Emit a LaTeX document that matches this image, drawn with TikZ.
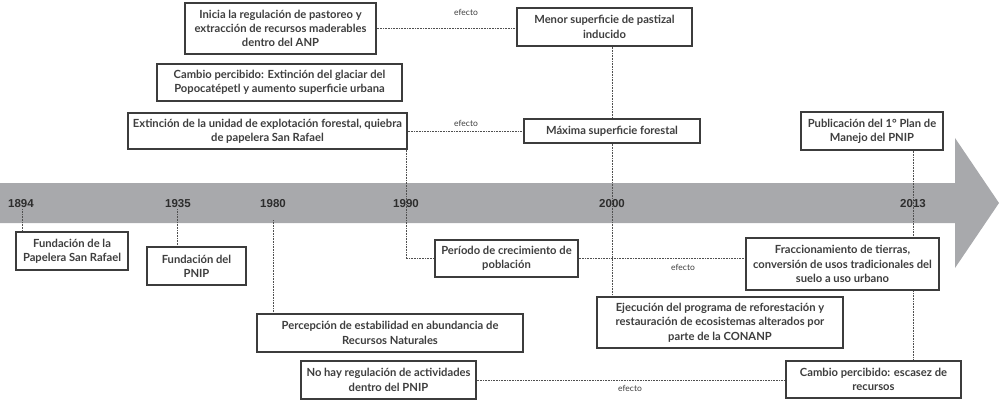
\documentclass[tikz,border=0pt]{standalone}
\usepackage{fontspec}
\usetikzlibrary{backgrounds}
\newfontfamily\boxfont{Lato Bold}
\newfontfamily\efffont{Lato}
\newfontfamily\yearfont{Liberation Sans Bold}
\definecolor{band}{RGB}{168,169,172}
\definecolor{ink}{RGB}{62,62,62}
\definecolor{yink}{RGB}{45,45,45}
\definecolor{edge}{RGB}{60,60,60}
\definecolor{dots}{RGB}{80,80,80}
\tikzset{
  box/.style={draw=edge, line width=1.1pt, fill=white, inner sep=0pt, align=center,
    text=ink, font=\boxfont\fontsize{11.2}{14.3}\selectfont},
  yr/.style={text=yink, inner sep=1pt, font=\yearfont\fontsize{11.5}{12}\selectfont},
  link/.style={draw=dots, line width=0.9pt, dash pattern=on 0.8pt off 0.8pt},
  eff/.style={text=ink, inner sep=0pt, font=\efffont\fontsize{8.5}{9}\selectfont}
}
\begin{document}
\begin{tikzpicture}[x=1pt,y=-1pt]
\useasboundingbox (0,0) rectangle (1001,401);
% years
\node[yr] (y1894) at (21,204) {1894};
\node[yr] (y1935) at (178,204) {1935};
\node[yr] (y1980) at (273,204) {1980};
\node[yr] (y1990) at (406,204) {1990};
\node[yr] (y2000) at (612,204) {2000};
\node[yr] (y2013) at (913,204) {2013};
\coordinate (l1894) at (22,0);
\coordinate (l1935) at (177,0);
\coordinate (l1980) at (273,220);
\coordinate (l1990) at (406,0);
\coordinate (l2000) at (612,0);
\coordinate (l2013) at (913,0);
% boxes
\node[box, minimum width=191, minimum height=51] (inicia) at (280.5,28.5) {Inicia la regulación de pastoreo y\\extracción de recursos maderables\\dentro del ANP};
\node[box, minimum width=175, minimum height=38] (menor) at (604.5,27) {Menor superficie de pastizal\\inducido};
\node[box, minimum width=245, minimum height=37] (glaciar) at (279.5,82.5) {Cambio percibido: Extinción del glaciar del\\Popocatépetl y aumento superficie urbana};
\node[box, minimum width=279, minimum height=36] (extincion) at (267.5,131) {Extinción de la unidad de explotación forestal, quiebra\\de papelera San Rafael};
\node[box, minimum width=176, minimum height=24] (maxima) at (612,131) {Máxima superficie forestal};
\node[box, minimum width=142, minimum height=38] (publicacion) at (872,131) {Publicación del 1° Plan de\\Manejo del PNIP};
\node[box, minimum width=112, minimum height=38] (papelera) at (72,251) {Fundación de la\\Papelera San Rafael};
\node[box, minimum width=99, minimum height=38] (pnip) at (196.5,266) {Fundación del\\PNIP};
\node[box, minimum width=143, minimum height=37] (periodo) at (506.5,258.5) {Período de crecimiento de\\población};
\node[box, minimum width=193, minimum height=52] (fracc) at (842.5,264) {Fraccionamiento de tierras,\\conversión de usos tradicionales del\\suelo a uso urbano};
\node[box, minimum width=266, minimum height=38] (percepcion) at (390,333) {Percepción de estabilidad en abundancia de\\Recursos Naturales};
\node[box, minimum width=246, minimum height=51] (ejecucion) at (720,322.5) {Ejecución del programa de reforestación y\\restauración de ecosistemas alterados por\\parte de la CONANP};
\node[box, minimum width=175, minimum height=38] (nohay) at (388.5,380) {No hay regulación de actividades\\dentro del PNIP};
\node[box, minimum width=175, minimum height=37] (escasez) at (873.5,379.5) {Cambio percibido: escasez de\\recursos};
% effect labels
\node[eff] (e1) at (466,12) {efecto};
\node[eff] (e2) at (466,123) {efecto};
\node[eff] (e3) at (683,267) {efecto};
\node[eff] (e4) at (630,388) {efecto};
\begin{scope}[on background layer]
% timeline band
\fill[band] (0,183) -- (955,183) -- (955,138) -- (999,203) -- (955,268) -- (955,223) -- (0,223) -- cycle;
% connectors
\draw[link] (inicia.east |- 0,28) -- (menor.west |- 0,28);
\draw[link] (extincion.east) -- (maxima.west);
\draw[link] (menor.south -| l2000) -- (maxima.north -| l2000);
\draw[link] (maxima.south -| l2000) -- (ejecucion.north -| l2000);
\draw[link] (extincion.south -| l1990) |- (periodo.west);
\draw[link] (periodo.east) -- (periodo.east -| fracc.west);
\draw[link] (publicacion.south -| l2013) -- (escasez.north -| l2013);
\draw[link] (nohay.east) -- (nohay.east -| escasez.west);
\draw[link] (y1894.south -| l1894) -- (papelera.north -| l1894);
\draw[link] (y1935.south -| l1935) -- (pnip.north -| l1935);
\draw[link] (l1980) -- (percepcion.north -| l1980);
\end{scope}
\end{tikzpicture}
\end{document}
